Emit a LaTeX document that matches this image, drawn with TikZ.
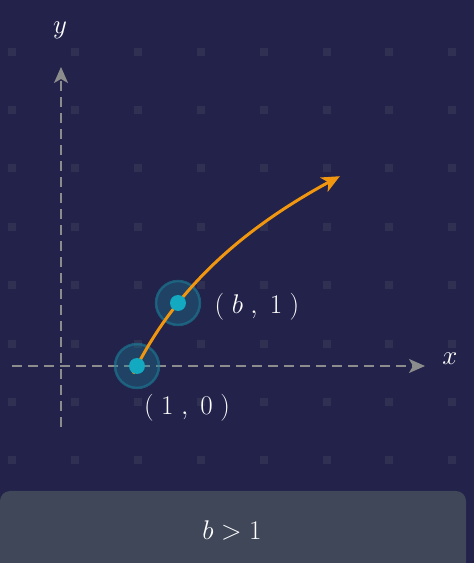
\RequirePackage{fix-cm}
\documentclass[tikz,border=0pt]{standalone}
\usepackage{amsmath}
\usetikzlibrary{arrows.meta,positioning}

\definecolor{bgnavy}{HTML}{22224A}
\definecolor{gridcell}{HTML}{2F3052}
\definecolor{capgray}{HTML}{3F4758}
\definecolor{axisgray}{HTML}{8C8C8C}
\definecolor{curveorange}{HTML}{F0960F}
\definecolor{ptcyan}{HTML}{12A9C1}
\definecolor{halocyan}{HTML}{1C7F98}

\tikzset{
  axisline/.style={draw=axisgray, line width=1.6pt, dash pattern=on 10pt off 6pt,
    -{Stealth[length=16pt,width=14pt,inset=4pt]}},
  curveline/.style={draw=curveorange, line width=3pt,
    -{Stealth[length=18pt,width=16pt,inset=5pt]}},
  ptdot/.style={circle, fill=ptcyan, inner sep=0pt, minimum size=16pt},
  halo/.style={circle, fill=halocyan, fill opacity=0.35, draw=halocyan, draw opacity=0.6,
    line width=2.5pt, inner sep=0pt, minimum size=44pt},
  dotcell/.style={fill=gridcell},
  capbox/.style={fill=capgray, rounded corners=10pt},
  mathlab/.style={text=white, font=\fontsize{27}{32}\selectfont, inner sep=0pt}
}

\begin{document}
\begin{tikzpicture}[x=1pt, y=1pt]
  % background
  \fill[bgnavy] (0,0) rectangle (474,563);
  \useasboundingbox (0,0) rectangle (474,563);

  % dotted grid
  \foreach \i in {0,...,7}
    \foreach \j in {0,...,7}
      \fill[dotcell] ({12+62.9*\i-4},{563-51.7-58.4*\j-4}) rectangle ++(8,8);

  % axes
  \coordinate (ybot) at (61,136);
  \coordinate (ytop) at (61,496);
  \coordinate (xleft) at (12,197);
  \coordinate (xright) at (425,197);
  \draw[axisline] (ybot) -- (ytop);
  \draw[axisline] (xleft) -- (xright);
  \node[mathlab] (ylab) at (60,533) {$y$};
  \node[mathlab] (xlab) at (450,204) {$x$};

  % points and curve
  \node[halo] (h0) at (137,197) {};
  \node[halo] (h1) at (178,260) {};
  \draw[curveline] plot[domain=0.95:3.67, samples=50] ({61+76*\x},{197+146*ln(\x)});
  \node[ptdot] (p0) at (h0) {};
  \node[ptdot] (p1) at (h1) {};
  \node[mathlab] (lab0) at (187,155) {$(\;1\;,\;0\;)$};
  \node[mathlab] (lab1) at (257,256) {$(\;b\;,\;1\;)$};

  % condition box
  \fill[capbox] (0,-20) rectangle (466,72);
  \node[mathlab] (cond) at (232,33) {$b>1$};
\end{tikzpicture}
\end{document}
